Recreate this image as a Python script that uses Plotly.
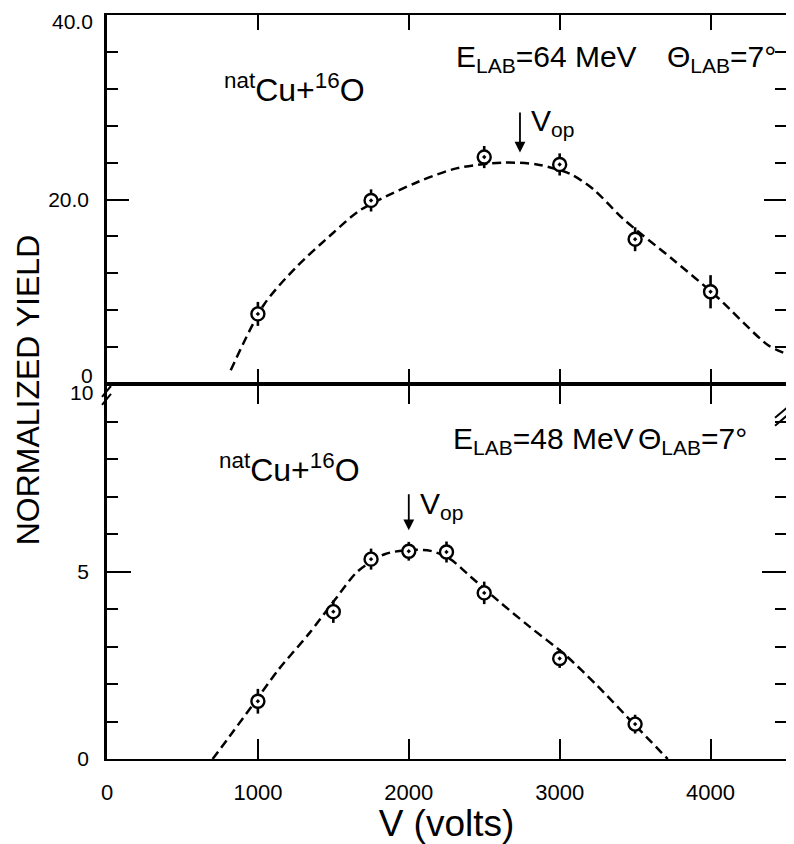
import plotly.graph_objects as go
from plotly.subplots import make_subplots

# ---- data ----
# Upper panel: E_LAB = 64 MeV
v_64 = [1000, 1750, 2500, 3000, 3500, 4000]
y_64 = [7.6, 19.9, 24.6, 23.8, 15.7, 10.0]
e_64 = [1.3, 1.2, 1.2, 1.2, 1.3, 1.8]
curve_v_64 = [820, 1040, 1250, 1500, 1664, 1796, 2059, 2322, 2632, 2849, 3066, 3224, 3421, 3750, 4033, 4382, 4500]
curve_y_64 = [1.5, 8.6, 12.6, 16.4, 18.7, 19.9, 21.9, 23.4, 24.0, 23.8, 22.8, 21.1, 17.9, 13.5, 9.6, 4.2, 3.3]

# Lower panel: E_LAB = 48 MeV
v_48 = [1000, 1500, 1750, 2000, 2250, 2500, 3000, 3500]
y_48 = [1.54, 3.93, 5.33, 5.54, 5.52, 4.43, 2.68, 0.93]
e_48 = [0.33, 0.3, 0.28, 0.25, 0.28, 0.3, 0.25, 0.25]
curve_v_48 = [700, 830, 960, 1140, 1340, 1530, 1660, 1840, 1990, 2145, 2275, 2410, 2590, 2800, 3030, 3250, 3500, 3716]
curve_y_48 = [0.0, 0.7, 1.41, 2.4, 3.35, 4.35, 5.0, 5.46, 5.57, 5.55, 5.33, 4.86, 4.23, 3.53, 2.8, 1.95, 0.9, 0.0]

x_ticks = [0, 1000, 2000, 3000, 4000]
x_ticktext = ["0", "1000", "2000", "3000", "4000"]
y_top_ticks = [0, 20, 40]
y_top_text = ["0", "20.0", "40.0"]
y_bot_ticks = [0, 5, 10]
y_bot_text = ["0", "5", "10"]

FONT = "Liberation Sans, Arial, sans-serif"
INK = "black"

fig = make_subplots(rows=2, cols=1, shared_xaxes=True, vertical_spacing=0)

def add_panel(row, cv, cy, v, y, e):
    fig.add_trace(go.Scatter(x=cv, y=cy, mode="lines",
                             line=dict(color=INK, width=2.5, dash="9px,5px", shape="spline", smoothing=0.8),
                             hoverinfo="skip", showlegend=False), row=row, col=1)
    fig.add_trace(go.Scatter(x=v, y=y, mode="markers",
                             marker=dict(symbol="circle-dot", size=13, color="white", line=dict(color=INK, width=2.4)),
                             error_y=dict(type="data", array=e, visible=True, color=INK, thickness=2.6, width=0),
                             showlegend=False), row=row, col=1)

add_panel(1, curve_v_64, curve_y_64, v_64, y_64, e_64)
add_panel(2, curve_v_48, curve_y_48, v_48, y_48, e_48)

axis_common = dict(showline=True, linecolor=INK, mirror="ticks", ticks="inside",
                   tickcolor=INK, tickwidth=2, showgrid=False, zeroline=False)

fig.update_xaxes(range=[0, 4500], tickvals=x_ticks, linewidth=2, **axis_common)
fig.update_xaxes(row=1, col=1, ticklen=15, showticklabels=False)
fig.update_xaxes(row=2, col=1, ticklen=20, ticktext=x_ticktext,
                 tickfont=dict(family=FONT, size=22, color=INK), ticklabelstandoff=13,
                 title=dict(text="V (volts)", font=dict(family=FONT, size=37, color=INK), standoff=8))

# tick labels at the break and at the very top are drawn as separate texts below
fig.update_yaxes(row=1, col=1, range=[0, 40], tickvals=y_top_ticks, ticktext=["", y_top_text[1], ""], ticklen=22,
                 minor=dict(dtick=4, ticks="inside", ticklen=11, tickcolor=INK, tickwidth=2),
                 tickfont=dict(family=FONT, size=21, color=INK), ticklabelstandoff=11,
                 domain=[0.504, 1.0], linewidth=2.5, **axis_common)
fig.update_yaxes(row=2, col=1, range=[0, 10], tickvals=y_bot_ticks, ticktext=[y_bot_text[0], y_bot_text[1], ""], ticklen=24,
                 minor=dict(dtick=1, ticks="inside", ticklen=11, tickcolor=INK, tickwidth=2),
                 tickfont=dict(family=FONT, size=21, color=INK), ticklabelstandoff=11,
                 domain=[0.0, 0.504], linewidth=2.5, **axis_common)

lab_font = dict(family=FONT, size=30, color=INK)
react_font = dict(family=FONT, size=32, color=INK)
tick_font = dict(family=FONT, size=21, color=INK)

# plot area in page pixels: x 107..789, y 15..763
W, H = 682.0, 748.0
def px(xp, yp):
    return (xp - 107) / W, (763 - yp) / H

annotations = [
    # upper panel
    dict(text="<sup>nat</sup>Cu+<sup>16</sup>O", x=759, y=32.1, xref="x", yref="y", xanchor="left", yanchor="middle", showarrow=False, font=react_font),
    dict(text="E<sub>LAB</sub>=64 MeV", x=2297, y=35.3, xref="x", yref="y", xanchor="left", yanchor="middle", showarrow=False, font=lab_font),
    dict(text="\u0398<sub>LAB</sub>=7\u00b0", x=3696, y=35.3, xref="x", yref="y", xanchor="left", yanchor="middle", showarrow=False, font=lab_font),
    dict(text="V<sub>op</sub>", x=2800, y=28.3, xref="x", yref="y", xanchor="left", yanchor="middle", showarrow=False, font=lab_font),
    dict(text="", x=2737, y=25.1, ax=2737, ay=29.6, xref="x", yref="y", axref="x", ayref="y", showarrow=True,
         arrowhead=2, arrowsize=1.2, arrowwidth=1.8, arrowcolor=INK),
    # lower panel
    dict(text="<sup>nat</sup>Cu+<sup>16</sup>O", x=726, y=7.75, xref="x2", yref="y2", xanchor="left", yanchor="middle", showarrow=False, font=react_font),
    dict(text="E<sub>LAB</sub>=48 MeV", x=2277, y=8.5, xref="x2", yref="y2", xanchor="left", yanchor="middle", showarrow=False, font=lab_font),
    dict(text="\u0398<sub>LAB</sub>=7\u00b0", x=3505, y=8.5, xref="x2", yref="y2", xanchor="left", yanchor="middle", showarrow=False, font=lab_font),
    dict(text="V<sub>op</sub>", x=2060, y=6.75, xref="x2", yref="y2", xanchor="left", yanchor="middle", showarrow=False, font=lab_font),
    dict(text="", x=2000, y=6.1, ax=2000, ay=7.1, xref="x2", yref="y2", axref="x2", ayref="y2", showarrow=True,
         arrowhead=2, arrowsize=1.2, arrowwidth=1.8, arrowcolor=INK),
]

# y tick labels drawn separately: "40.0" just below the top edge, "0" (top) above "10" (bottom) at the break
lx, ly40 = px(95, 22)
_, ly0 = px(93, 377)
_, ly10 = px(93, 395)
for txt, yy in [(y_top_text[2], ly40), (y_top_text[0], ly0), (y_bot_text[2], ly10)]:
    annotations.append(dict(text=txt, x=lx, y=yy, xref="paper", yref="paper", xanchor="right", yanchor="middle",
                            showarrow=False, font=tick_font))

# y-axis title
tx, ty = px(28, 392)
annotations.append(dict(text="NORMALIZED YIELD", xref="paper", yref="paper", x=tx, y=ty,
                        textangle=-90, showarrow=False, xanchor="center", yanchor="middle",
                        font=dict(family=FONT, size=32, color=INK)))

# axis break marks "//"
shapes = []
for (x0, y0, x1, y1) in [(102, 399, 111, 388), (102, 407, 111, 396), (778, 420, 792, 408), (778, 428, 792, 416)]:
    a, b = px(x0, y0)
    c, d = px(x1, y1)
    shapes.append(dict(type="line", xref="paper", yref="paper", x0=a, y0=b, x1=c, y1=d, line=dict(color=INK, width=2)))

# page body has an 8px margin, so the figure is 8px smaller each way and margins are shifted
fig.update_layout(
    width=786, height=836,
    margin=dict(l=99, r=5, t=7, b=81),
    paper_bgcolor="white", plot_bgcolor="white",
    font=dict(family=FONT, color=INK),
    annotations=annotations, shapes=shapes,
    showlegend=False,
)

fig.write_html("out.html")
